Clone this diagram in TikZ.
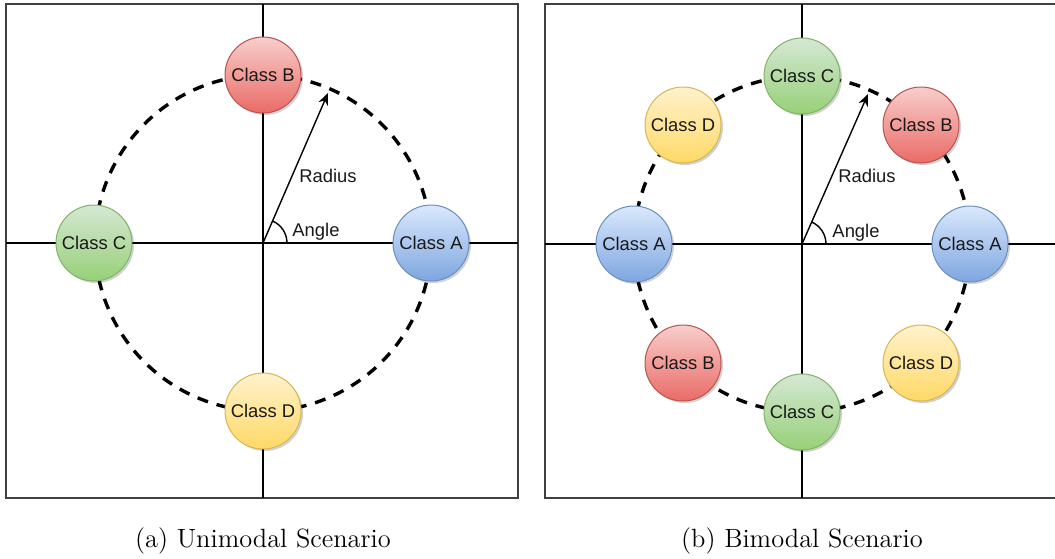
\documentclass[tikz,border=0pt]{standalone}
\usepackage{fontspec}
\newfontfamily\arialf{Liberation Sans}
\usetikzlibrary{arrows.meta,shadows}
\definecolor{topA}{HTML}{DAE8FC}\definecolor{botA}{HTML}{7EA6E0}\definecolor{bdA}{HTML}{6C8EBF}
\definecolor{topB}{HTML}{F8CECC}\definecolor{botB}{HTML}{EA6B66}\definecolor{bdB}{HTML}{B85450}
\definecolor{topC}{HTML}{D5E8D4}\definecolor{botC}{HTML}{97D077}\definecolor{bdC}{HTML}{82B366}
\definecolor{topD}{HTML}{FFF2CC}\definecolor{botD}{HTML}{FFD966}\definecolor{bdD}{HTML}{D6B656}
\begin{document}
\begin{tikzpicture}[x=0.5pt,y=-0.5pt,
  classnode/.style={circle, minimum size=38pt, inner sep=0pt, line width=0.5pt,
    font=\arialf\fontsize{9.2}{10}\selectfont, text=black!90,
    drop shadow={shadow xshift=1pt, shadow yshift=-1pt, fill=black, opacity=0.18}},
  clsA/.style={classnode, draw=bdA, top color=topA, bottom color=botA},
  clsB/.style={classnode, draw=bdB, top color=topB, bottom color=botB},
  clsC/.style={classnode, draw=bdC, top color=topC, bottom color=botC},
  clsD/.style={classnode, draw=bdD, top color=topD, bottom color=botD},
  frameline/.style={line width=0.8pt, draw=black!75},
  axisline/.style={line width=0.8pt, draw=black},
  ringline/.style={line width=1.7pt, dash pattern=on 5.5pt off 4.5pt},
  radiusarrow/.style={line width=0.7pt, -{Stealth[length=6pt,width=5pt]}},
  anglearc/.style={line width=0.7pt},
  smalllabel/.style={font=\arialf\fontsize{9.2}{10}\selectfont, text=black!90, inner sep=0pt},
  caption/.style={font=\fontsize{13.2}{15}\selectfont, inner sep=0pt}]
\useasboundingbox (0,0) rectangle (1055,558);

% ---------- (a) Unimodal ----------
\coordinate (oL) at (263,243);
\draw[frameline] (6,4) rectangle (518,498);
\draw[axisline] (263,4) -- (263,498);
\draw[axisline] (6,243) -- (518,243);
\draw[ringline] (oL) circle[radius=168];
\coordinate (tipL) at (328,93);
\draw[radiusarrow] (oL) -- (tipL);
\draw[anglearc] (oL) ++(24,0) arc[start angle=0, end angle=-66.5, radius=24];
\node[smalllabel] (radL) at (328,176) {Radius};
\node[smalllabel] (angL) at (316,232) {Angle};
\node[clsA] (aA) at (431,243) {Class A};
\node[clsB] (aB) at (263,75) {Class B};
\node[clsC] (aC) at (94,243) {Class C};
\node[clsD] (aD) at (263,411) {Class D};
\node[caption] (capA) at (263,541) {(a) Unimodal Scenario};

% ---------- (b) Bimodal ----------
\coordinate (oR) at (802,244);
\draw[frameline] (1056,4) -- (545,4) -- (545,498) -- (1056,498);
\draw[axisline] (802,4) -- (802,498);
\draw[axisline] (545,244) -- (1055,244);
\draw[ringline] (oR) circle[radius=168];
\coordinate (tipR) at (868,94);
\draw[radiusarrow] (oR) -- (tipR);
\draw[anglearc] (oR) ++(24,0) arc[start angle=0, end angle=-66.5, radius=24];
\node[smalllabel] (radR) at (867,176) {Radius};
\node[smalllabel] (angR) at (856,233) {Angle};
\node[clsA] (bA1) at (970,244) {Class A};
\node[clsB] (bB1) at (921,125) {Class B};
\node[clsC] (bC1) at (802,76) {Class C};
\node[clsD] (bD1) at (683,125) {Class D};
\node[clsA] (bA2) at (634,244) {Class A};
\node[clsB] (bB2) at (683,363) {Class B};
\node[clsC] (bC2) at (802,412) {Class C};
\node[clsD] (bD2) at (921,363) {Class D};
\node[caption] (capB) at (802,541) {(b) Bimodal Scenario};
\end{tikzpicture}
\end{document}
